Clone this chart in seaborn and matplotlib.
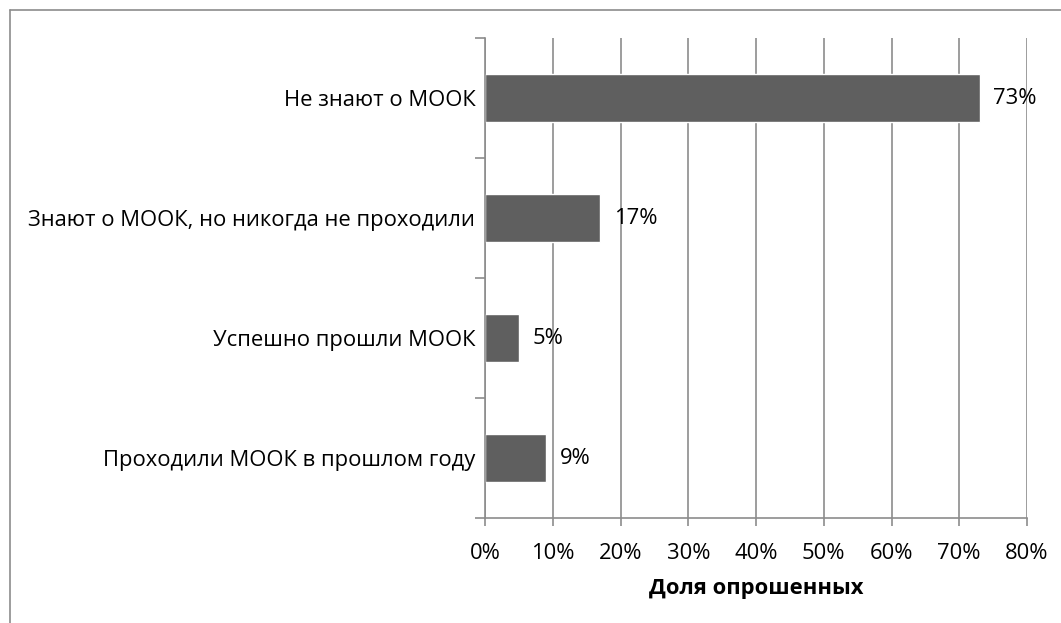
import matplotlib
matplotlib.use("Agg")
import matplotlib.pyplot as plt
import seaborn as sns
import pandas as pd
from matplotlib.lines import Line2D
from matplotlib.ticker import FixedLocator, PercentFormatter

categories = ["Не знают о МООК",
              "Знают о МООК, но никогда не проходили",
              "Успешно прошли МООК",
              "Проходили МООК в прошлом году"]
values = [73, 17, 5, 9]
xticks = [0, 10, 20, 30, 40, 50, 60, 70, 80]
xlabel = "Доля опрошенных"

sns.set_theme(style="white")
plt.rcParams['font.family'] = ['Open Sans', 'DejaVu Sans']
plt.rcParams['text.color'] = 'black'
plt.rcParams['xtick.labelcolor'] = 'black'
plt.rcParams['ytick.labelcolor'] = 'black'
plt.rcParams['axes.labelcolor'] = 'black'
FS = 15.8

df = pd.DataFrame({"cat": categories, "val": values})

fig = plt.figure(figsize=(10.61, 6.23), dpi=100)
ax = fig.add_axes([485/1061, 1-518/623, (1027-485)/1061, (518-38)/623])

grid_c = "#8c8c8c"
ax.set_axisbelow(True)
ax.xaxis.grid(True, color=grid_c, linewidth=1.2)

sns.barplot(data=df, x="val", y="cat", ax=ax, color="#5f5f5f",
            width=0.4, saturation=1, orient="h")

for i, v in enumerate(values):
    ax.annotate(f"{v}%", xy=(v, i), xytext=(10, 0), textcoords="offset points",
                va="center", ha="left", fontsize=FS, color="black")

ax.set_xlim(0, 80)
ax.set_ylim(3.5, -0.5)
ax.set_xticks(xticks)
ax.xaxis.set_major_formatter(PercentFormatter(decimals=0))
ax.tick_params(axis="x", length=6, width=1.2, color=grid_c, labelsize=FS, pad=12, direction="out", bottom=True, labelcolor="black")
ax.yaxis.set_minor_locator(FixedLocator([-0.5, 0.5, 1.5, 2.5, 3.5]))
ax.tick_params(axis="y", which="minor", length=7, width=1.2, color=grid_c, left=True)
ax.tick_params(axis="y", which="major", length=0, labelsize=FS, pad=7, labelcolor="black")
ax.set_ylabel("")
ax.set_xlabel(xlabel, fontsize=FS, fontweight="bold", labelpad=10, color="black")

for s in ["top", "right"]:
    ax.spines[s].set_visible(False)
for s in ["left", "bottom"]:
    ax.spines[s].set_color(grid_c)
    ax.spines[s].set_linewidth(1.2)

# outer chart border (partially visible)
fig.add_artist(Line2D([10/1061, 10/1061], [0, 1-10/623], color="#8c8c8c", linewidth=1.2, transform=fig.transFigure))
fig.add_artist(Line2D([10/1061, 1], [1-10/623, 1-10/623], color="#8c8c8c", linewidth=1.2, transform=fig.transFigure))

fig.savefig("out.png", dpi=100)
